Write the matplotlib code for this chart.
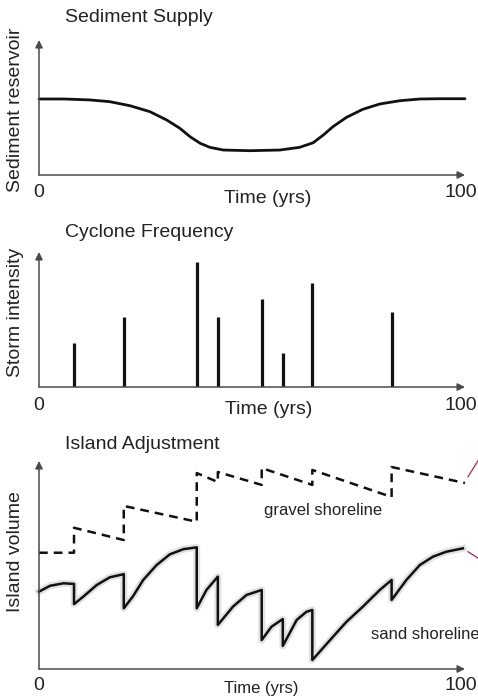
import matplotlib
matplotlib.use("Agg")
import matplotlib.pyplot as plt

plt.rcParams["font.family"] = ["Liberation Sans", "DejaVu Sans"]

# ─────────────────────────────────────────────────────────────────────────────
# data  (time in years, values in % of axis height)
# ─────────────────────────────────────────────────────────────────────────────

# sediment reservoir through the century
sediment_t = [0, 6, 12.1, 16.8, 21.6, 26.3, 30.3, 33.4, 35.8, 38.2, 40.5,
              43.7, 50.0, 57.1, 61.8, 65.0, 67.4, 69.7, 72.9, 76.8, 80.8,
              85.5, 90.3, 95.0, 101]
sediment_v = [56.3, 56.3, 55.6, 54.3, 51.3, 46.9, 40.7, 34.6, 28.4, 23.5,
              20.5, 18.5, 18.0, 18.5, 20.5, 23.9, 29.6, 35.8, 42.7, 48.7,
              52.6, 55.0, 56.3, 56.5, 56.5]

# cyclone events
storm_t = [8.3, 20.1, 37.4, 42.4, 52.8, 57.8, 64.8, 83.6]
storm_v = [32.6, 51.9, 92.6, 51.9, 65.2, 25.2, 77.0, 55.6]

# gravel shoreline volume (steps up with each storm, slow loss between)
gravel_t = [0, 8.3, 8.3, 20.1, 20.1, 37.4, 37.4, 42.4, 42.4, 52.8, 52.8,
            64.8, 64.8, 83.6, 83.6, 101]
gravel_v = [55.9, 55.9, 67.9, 62.0, 78.4, 70.8, 94.2, 89.9, 94.7, 88.5, 96.6,
            88.5, 95.7, 82.7, 97.1, 89.4]

# sand shoreline volume (drops with each storm, recovers between)
sand_t = [0, 2.6, 5.8, 8.3, 8.3, 10.5, 13.7, 16.8, 20.1, 20.1, 22.3, 24.7,
          27.9, 31.0, 34.2, 37.4, 37.4, 39.7, 42.4, 42.4, 46.0, 49.2, 52.8,
          52.8, 55.1, 57.8, 57.8, 61.1, 63.4, 64.8, 64.8, 69.0, 72.9, 76.8,
          80.8, 83.6, 83.6, 87.1, 90.3, 93.4, 96.6, 100.5]
sand_v = [37.2, 40.0, 41.2, 40.9, 31.2, 34.8, 40.4, 44.1, 45.6, 29.2, 35.0,
          42.8, 50.0, 55.1, 57.6, 58.5, 29.2, 38.0, 44.4, 21.2, 30.0, 35.6,
          38.0, 13.9, 20.3, 24.0, 11.1, 23.6, 27.5, 28.4, 4.3, 13.9, 22.7,
          30.0, 38.0, 42.8, 33.2, 42.8, 50.0, 54.0, 56.4, 58.0]

TEXT = "#222222"
AXIS = "#4a4a4a"
INK = "#111111"
FS = 14

W, H = 478, 700
fig = plt.figure(figsize=(W / 100, H / 100), dpi=100)
fig.patch.set_facecolor("white")


def panel(bottom_px, height_px):
    left, right = 39, 465
    ax = fig.add_axes([left / W, (H - bottom_px) / H,
                       (right - left) / W, height_px / H])
    ax.set_xlim(0, 101)
    ax.set_ylim(0, 100)
    ax.axis("off")
    arrow = dict(arrowstyle="-|>", lw=1.1, color=AXIS, mutation_scale=11,
                 shrinkA=0, shrinkB=0)
    ax.annotate("", xy=(0, 1), xytext=(0, 0), xycoords="axes fraction",
                arrowprops=arrow)
    ax.annotate("", xy=(1, 0), xytext=(0, 0), xycoords="axes fraction",
                arrowprops=arrow)
    return ax


def decorate(ax, title, ylabel, title_y, num_y, time_y, time_x, ylab_y,
             time_fs=FS):
    ax.text(0.061, title_y, title, transform=ax.transAxes, fontsize=FS,
            color=TEXT, va="center", ha="left")
    ax.text(-0.054, ylab_y, ylabel, transform=ax.transAxes, fontsize=FS,
            color=TEXT, va="center", ha="center", rotation=90)
    tr = ax.get_xaxis_transform()
    ax.text(0, num_y, "0", transform=tr, fontsize=FS, color=TEXT,
            ha="center", va="center")
    ax.text(100, num_y, "100", transform=tr, fontsize=FS, color=TEXT,
            ha="center", va="center")
    ax.text(time_x, time_y, "Time (yrs)", transform=tr, fontsize=time_fs,
            color=TEXT, ha="center", va="center")


# ── 1. sediment supply ──
ax1 = panel(175, 135)
ax1.plot(sediment_t, sediment_v, color=INK, lw=2.0, solid_capstyle="round",
         solid_joinstyle="round", clip_on=False)
decorate(ax1, "Sediment Supply", "Sediment reservoir", 1.17, -0.13, -0.175,
         54.3, 0.48)

# ── 2. cyclone frequency ──
ax2 = panel(387, 135)
ax2.vlines(storm_t, 0, storm_v, color=INK, lw=2.3)
decorate(ax2, "Cyclone Frequency", "Storm intensity", 1.145, -0.135, -0.17,
         54.5, 0.55)

# ── 3. island adjustment ──
ax3 = panel(669, 208)
ax3.plot(sand_t, sand_v, color="#bdbdbd", lw=5, alpha=0.45, clip_on=False)
ax3.plot(sand_t, sand_v, color=INK, lw=1.8, solid_joinstyle="round",
         clip_on=False)
ax3.plot(gravel_t, gravel_v, color=INK, lw=1.8, dashes=(3.5, 2.4),
         clip_on=False)
ax3.plot([101.7, 104.2], [92.4, 100.5], color="#b3204d", lw=0.9,
         clip_on=False)
ax3.plot([101.7, 104.2], [56.4, 53.2], color="#b3204d", lw=0.9,
         clip_on=False)
ax3.text(67.3, 76.4, "gravel shoreline", fontsize=12, color=TEXT,
         ha="center", va="center")
ax3.text(78.6, 16.8, "sand shoreline", fontsize=12, color=TEXT,
         ha="left", va="center", clip_on=False)
decorate(ax3, "Island Adjustment", "Island volume", 1.077, -0.077, -0.092,
         52.8, 0.5625, time_fs=12)

fig.savefig("out.png", dpi=100, facecolor="white")
